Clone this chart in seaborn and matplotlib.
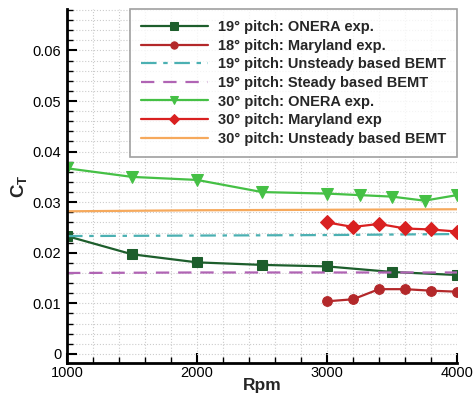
import matplotlib
matplotlib.use("Agg")
import matplotlib.pyplot as plt
import seaborn as sns
import numpy as np
from matplotlib.ticker import MultipleLocator, FuncFormatter

# Data
rpm_onera19 = [1000, 1500, 2000, 2500, 3000, 3500, 4000]
ct_onera19 = [0.0233, 0.0197, 0.0181, 0.0176, 0.0173, 0.0162, 0.0156]

rpm_md18 = [3000, 3200, 3400, 3600, 3800, 4000]
ct_md18 = [0.0104, 0.0108, 0.0128, 0.0128, 0.0125, 0.0123]

rpm_bemt = [1000, 2000, 3000, 4000]
ct_unsteady19 = [0.0233, 0.0234, 0.0235, 0.0237]
ct_steady19 = [0.0160, 0.0161, 0.0161, 0.0161]

rpm_onera30 = [1000, 1500, 2000, 2500, 3000, 3250, 3500, 3750, 4000]
ct_onera30 = [0.0367, 0.0350, 0.0344, 0.0320, 0.0317, 0.0314, 0.0311, 0.0303, 0.0314]

rpm_md30 = [3000, 3200, 3400, 3600, 3800, 4000]
ct_md30 = [0.0260, 0.0251, 0.0257, 0.0248, 0.0246, 0.0242]

ct_unsteady30 = [0.0282, 0.0284, 0.0285, 0.0286]

labels = [
    "19° pitch: ONERA exp.",
    "18° pitch: Maryland exp.",
    "19° pitch: Unsteady based BEMT",
    "19° pitch: Steady based BEMT",
    "30° pitch: ONERA exp.",
    "30° pitch: Maryland exp",
    "30° pitch: Unsteady based BEMT",
]

sns.set_style("white")
plt.rcParams['font.family'] = ['Liberation Sans', 'DejaVu Sans']

fig = plt.figure(figsize=(4.74, 3.96), dpi=100)
ax = fig.add_axes([67/474, 1-363/396, (457-67)/474, (363-9)/396])

sns.lineplot(x=rpm_onera19, y=ct_onera19, ax=ax, color="#1d5e2c", marker="s",
             markersize=7, markeredgecolor="#1d5e2c", lw=1.6, label=labels[0])
sns.lineplot(x=rpm_md18, y=ct_md18, ax=ax, color="#b3282a", marker="o",
             markersize=7, markeredgecolor="#b3282a", lw=1.6, label=labels[1])
sns.lineplot(x=rpm_bemt, y=ct_unsteady19, ax=ax, color="#4bb0b2",
             lw=1.6, label=labels[2])
sns.lineplot(x=rpm_bemt, y=ct_steady19, ax=ax, color="#b064b4",
             lw=1.6, label=labels[3])
sns.lineplot(x=rpm_onera30, y=ct_onera30, ax=ax, color="#45c045", marker="v",
             markersize=8, markeredgecolor="#45c045", lw=1.6, label=labels[4])
sns.lineplot(x=rpm_md30, y=ct_md30, ax=ax, color="#d92020", marker="D",
             markersize=7, markeredgecolor="#d92020", lw=1.6, label=labels[5])
sns.lineplot(x=rpm_bemt, y=ct_unsteady30, ax=ax, color="#f6a95c",
             lw=1.6, label=labels[6])

lines = ax.get_lines()
lines[2].set_dashes([7, 3, 2, 3])
lines[3].set_dashes([6, 4])

ax.set_xlim(1000, 4000)
ax.set_ylim(-0.0018, 0.0682)
ax.xaxis.set_major_locator(MultipleLocator(1000))
ax.xaxis.set_minor_locator(MultipleLocator(200))
ax.yaxis.set_major_locator(MultipleLocator(0.01))
ax.yaxis.set_minor_locator(MultipleLocator(0.002))
ax.yaxis.set_major_formatter(FuncFormatter(lambda v, p: "0" if abs(v) < 1e-9 else f"{v:.2f}"))

ax.grid(which="both", color="#cccccc", linestyle=":", linewidth=0.8)
ax.set_axisbelow(True)

for s in ["top", "right"]:
    ax.spines[s].set_visible(False)
for s in ["left", "bottom"]:
    ax.spines[s].set_linewidth(2)
    ax.spines[s].set_color("black")

ax.tick_params(axis="both", which="major", direction="in", length=7, width=1.5,
               labelsize=10.5, colors="black", pad=4)
ax.tick_params(axis="x", which="major", pad=2)
ax.tick_params(axis="both", which="minor", direction="in", length=4, width=1,
               colors="black")
ax.tick_params(axis="x", which="both", bottom=True)
ax.tick_params(axis="y", which="both", left=True)

ax.set_xlabel("Rpm", fontsize=12.5, fontweight="bold", labelpad=-1)
ax.set_ylabel("C$_\\mathregular{T}$", fontsize=13.5, fontweight="bold", labelpad=2)

leg = ax.legend(loc="upper right", bbox_to_anchor=(1.0, 1.0), borderaxespad=0,
                handlelength=4.6, handletextpad=0.7, labelspacing=0.32,
                borderpad=0.75, markerscale=0.75,
                frameon=True, fancybox=False, edgecolor="#888888",
                prop={"weight": "bold", "size": 10.5, "family": "Liberation Sans"})
leg.get_frame().set_linewidth(1.2)

fig.savefig("out.png", dpi=100)
